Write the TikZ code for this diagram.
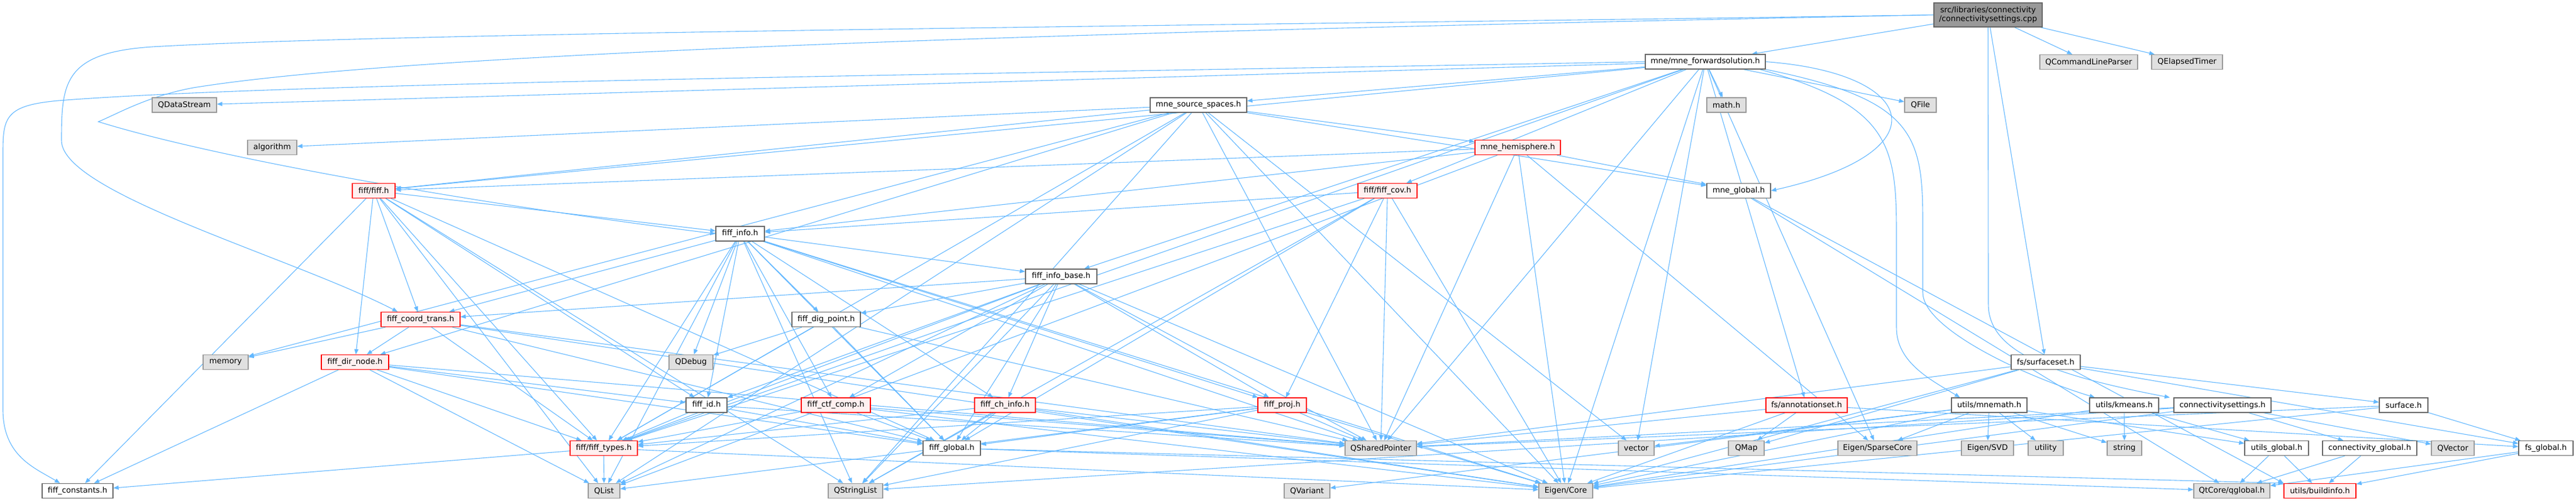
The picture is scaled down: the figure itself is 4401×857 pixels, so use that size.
\documentclass[tikz,border=0pt]{standalone}
\usepackage{fontspec}
\setmainfont{DejaVu Sans}
\usetikzlibrary{arrows.meta}
\definecolor{edgec}{HTML}{63B8FF}
\definecolor{extfill}{HTML}{E0E0E0}
\definecolor{extdraw}{HTML}{999999}
\definecolor{docdraw}{HTML}{666666}
\definecolor{redfill}{HTML}{FFF0F0}
\definecolor{reddraw}{HTML}{FF0000}
\definecolor{mainfill}{HTML}{999999}
\pgfdeclarelayer{bg}
\pgfsetlayers{bg,main}
\begin{document}
\begin{tikzpicture}[x=1pt,y=-1pt,
  box/.style={rectangle, inner sep=0pt, minimum height=25pt, line width=1.3pt, font=\fontsize{13.3}{15.5}\selectfont, text=black},
  w/.style={minimum width=#1pt},
  doc/.style={box, draw=docdraw, fill=white},
  ext/.style={box, draw=extdraw, fill=extfill},
  trunc/.style={box, draw=reddraw, fill=redfill},
  mainbox/.style={box, draw=docdraw, fill=mainfill, minimum height=41pt, align=center},
  dep/.style={draw=edgec, line width=1.1pt, -{Triangle[length=9pt,width=7pt]}}]
\useasboundingbox (0,0) rectangle (4401,857);
% nodes
\node[mainbox,w=185] (main) at (3396.5,25.5) {src/libraries/connectivity\\/connectivitysettings.cpp};
\node[doc,w=205] (fwd) at (2913.5,105.5) {mne/mne\_forwardsolution.h};
\node[ext,w=167] (qclp) at (3568.5,106) {QCommandLineParser};
\node[ext,w=121] (qet) at (3736.5,106) {QElapsedTimer};
\node[ext,w=110] (qds) at (315,179.5) {QDataStream};
\node[doc,w=165] (mss) at (2047.5,179.5) {mne\_source\_spaces.h};
\node[ext,w=67] (math) at (2949.5,179.5) {math.h};
\node[ext,w=54] (qfile) at (3281,179.5) {QFile};
\node[ext,w=84] (algo) at (465,252) {algorithm};
\node[trunc,w=146] (hemi) at (2593,252) {mne\_hemisphere.h};
\node[trunc,w=73] (fiff) at (638.5,326) {fiff/fiff.h};
\node[trunc,w=101] (cov) at (2370.5,326) {fiff/fiff\_cov.h};
\node[doc,w=109] (mneg) at (2970.5,326) {mne\_global.h};
\node[doc,w=83] (info) at (1264.5,399.5) {fiff\_info.h};
\node[doc,w=122] (infob) at (1813,472.5) {fiff\_info\_base.h};
\node[trunc,w=135] (coord) at (718.5,546) {fiff\_coord\_trans.h};
\node[doc,w=117] (dig) at (1411.5,546) {fiff\_dig\_point.h};
\node[ext,w=77] (memory) at (385.5,619) {memory};
\node[trunc,w=115] (dirn) at (606.5,619) {fiff\_dir\_node.h};
\node[ext,w=75] (qdebug) at (1180.5,619) {QDebug};
\node[doc,w=118] (surfset) at (3495,619) {fs/surfaceset.h};
\node[doc,w=70] (fid) at (1207,692.5) {fiff\_id.h};
\node[trunc,w=118] (ctf) at (1428,692.5) {fiff\_ctf\_comp.h};
\node[trunc,w=104] (chinfo) at (1717,692.5) {fiff\_ch\_info.h};
\node[trunc,w=83] (proj) at (2190.5,692.5) {fiff\_proj.h};
\node[trunc,w=139] (annot) at (3086.5,692.5) {fs/annotationset.h};
\node[doc,w=129] (mnemath) at (3398.5,692.5) {utils/mnemath.h};
\node[doc,w=118] (kmeans) at (3629,692.5) {utils/kmeans.h};
\node[doc,w=166] (csh) at (3797,692.5) {connectivitysettings.h};
\node[doc,w=83] (surf) at (4106.5,692.5) {surface.h};
\node[trunc,w=115] (types) at (1031.5,766) {fiff/fiff\_types.h};
\node[doc,w=98] (fglob) at (1626,766) {fiff\_global.h};
\node[ext,w=122] (qsp) at (2359,766) {QSharedPointer};
\node[ext,w=61] (vector) at (2795.5,766) {vector};
\node[ext,w=61] (qmap) at (2983.5,766) {QMap};
\node[ext,w=135] (sparse) at (3207.5,766) {Eigen/SparseCore};
\node[ext,w=89] (svd) at (3395.5,766) {Eigen/SVD};
\node[ext,w=60] (utility) at (3495,766) {utility};
\node[ext,w=59] (string) at (3629.5,766) {string};
\node[doc,w=109] (uglob) at (3889.5,766) {utils\_global.h};
\node[doc,w=161] (cglob) at (4048.5,766) {connectivity\_global.h};
\node[ext,w=73] (qvector) at (4190.5,766) {QVector};
\node[doc,w=93] (fsglob) at (4349.5,766) {fs\_global.h};
\node[doc,w=121] (consts) at (132.5,839) {fiff\_constants.h};
\node[ext,w=54] (qlist) at (1032,839) {QList};
\node[ext,w=93] (qsl) at (1461.5,839) {QStringList};
\node[ext,w=78] (qvariant) at (2233,839) {QVariant};
\node[ext,w=92] (eigen) at (2675,839) {Eigen/Core};
\node[ext,w=130] (qglobal) at (3813,839) {QtCore/qglobal.h};
\node[trunc,w=123] (build) at (3963.5,839) {utils/buildinfo.h};
% edges
\begin{pgfonlayer}{bg}
\fill[white] (0,0) rectangle (4401,857);
\draw[dep] (main.west) .. controls (2000,45) and (700,55) .. (260,80) .. controls (110,90) and (105,140) .. (105,240) .. controls (105,330) and (500,440) .. ([xshift=29pt]coord.north west);
\draw[dep] (main.west) .. controls (1800,55) and (700,90) .. (330,150) .. controls (250,165) and (200,195) .. (168,208) .. controls (400,280) and (900,360) .. (info.west);
\draw[dep] (fwd.west) .. controls (1800,125) and (500,140) .. (100,172) .. controls (10,180) and (5,200) .. (5,260) -- (5,700) .. controls (5,780) and (60,800) .. ([xshift=-30pt]consts.north);
\draw[dep] (main.south) -- (3397,520) .. controls (3397,600) and (3500,640) .. ([xshift=-90pt]csh.north);
\draw[dep] (fwd.east) .. controls (3280,125) and (3320,260) .. (mneg.east);
\draw[dep] ([xshift=-10pt]fwd.south east) .. controls (3230,180) and (3240,250) .. (3240,400) -- (3240,560) .. controls (3240,620) and (3300,650) .. ([xshift=-50pt]mnemath.north);
\draw[dep] (fwd.south east) .. controls (3270,170) and (3285,230) .. (3285,380) -- (3285,500) .. controls (3285,560) and (3450,640) .. ([xshift=-50pt]kmeans.north);
\foreach \a/\b in {main/fwd, main/surfset, main/qclp, main/qet,
 fwd/mss, fwd/math, fwd/qfile, fwd/cov, fwd/annot, fwd/qds, fwd/fiff, fwd/qsp, fwd/eigen, fwd/sparse, fwd/vector, fwd/infob, fwd/types,
 mss/algo, mss/hemi, mss/mneg, mss/fiff, mss/vector, mss/qsl, mss/qlist, mss/types, mss/dirn, mss/memory, mss/eigen, mss/qsp,
 hemi/mneg, hemi/fiff, hemi/info, hemi/eigen, hemi/sparse, hemi/qsp, hemi/qlist,
 cov/info, cov/proj, cov/qsp, cov/eigen, cov/types, cov/fglob, cov/qsl,
 fiff/coord, fiff/dirn, fiff/types, fiff/consts, fiff/qlist, fiff/qsl, fiff/fglob, fiff/info, fiff/fid,
 info/infob, info/dig, info/ctf, info/chinfo, info/fid, info/types, info/fglob, info/proj, info/qsl, info/qlist, info/qsp, info/eigen, info/coord, info/qdebug,
 infob/coord, infob/dig, infob/fid, infob/ctf, infob/chinfo, infob/fglob, infob/proj, infob/qsl, infob/types, infob/qsp, infob/eigen, infob/qlist,
 coord/memory, coord/dirn, coord/types, coord/fglob, coord/qsp, coord/eigen,
 dirn/consts, dirn/qlist, dirn/types, dirn/fglob, dirn/qsp, dirn/fid,
 dig/qdebug, dig/fglob, dig/types, dig/qsp,
 fid/fglob, fid/types, fid/qsp,
 ctf/fglob, ctf/types, ctf/qsp, ctf/eigen,
 chinfo/fglob, chinfo/types, chinfo/qsp, chinfo/eigen, chinfo/qsl,
 proj/fglob, proj/types, proj/qsp, proj/eigen, proj/qsl, proj/qlist,
 types/consts, types/qlist, types/eigen,
 fglob/qglobal, fglob/build.north west,
 mneg/qglobal, mneg/build.north west,
 annot/qsp, annot/qmap, annot/eigen, annot/fsglob,
 surfset/surf, surfset/fsglob, surfset/qsp, surfset/qmap, surfset/eigen,
 surf/fsglob, surf/qsp, surf/eigen,
 mnemath/svd, mnemath/utility, mnemath/string, mnemath/uglob, mnemath/eigen, mnemath/sparse, mnemath/vector, mnemath/qvariant,
 kmeans/string, kmeans/uglob, kmeans/eigen,
 csh/cglob, csh/qvector, csh/qsl, csh/eigen, csh/qsp,
 uglob/qglobal, uglob/build, cglob/qglobal, cglob/build, fsglob/qglobal, fsglob/build}
 \draw[dep] (\a) -- (\b);
\end{pgfonlayer}
\end{tikzpicture}
\end{document}
